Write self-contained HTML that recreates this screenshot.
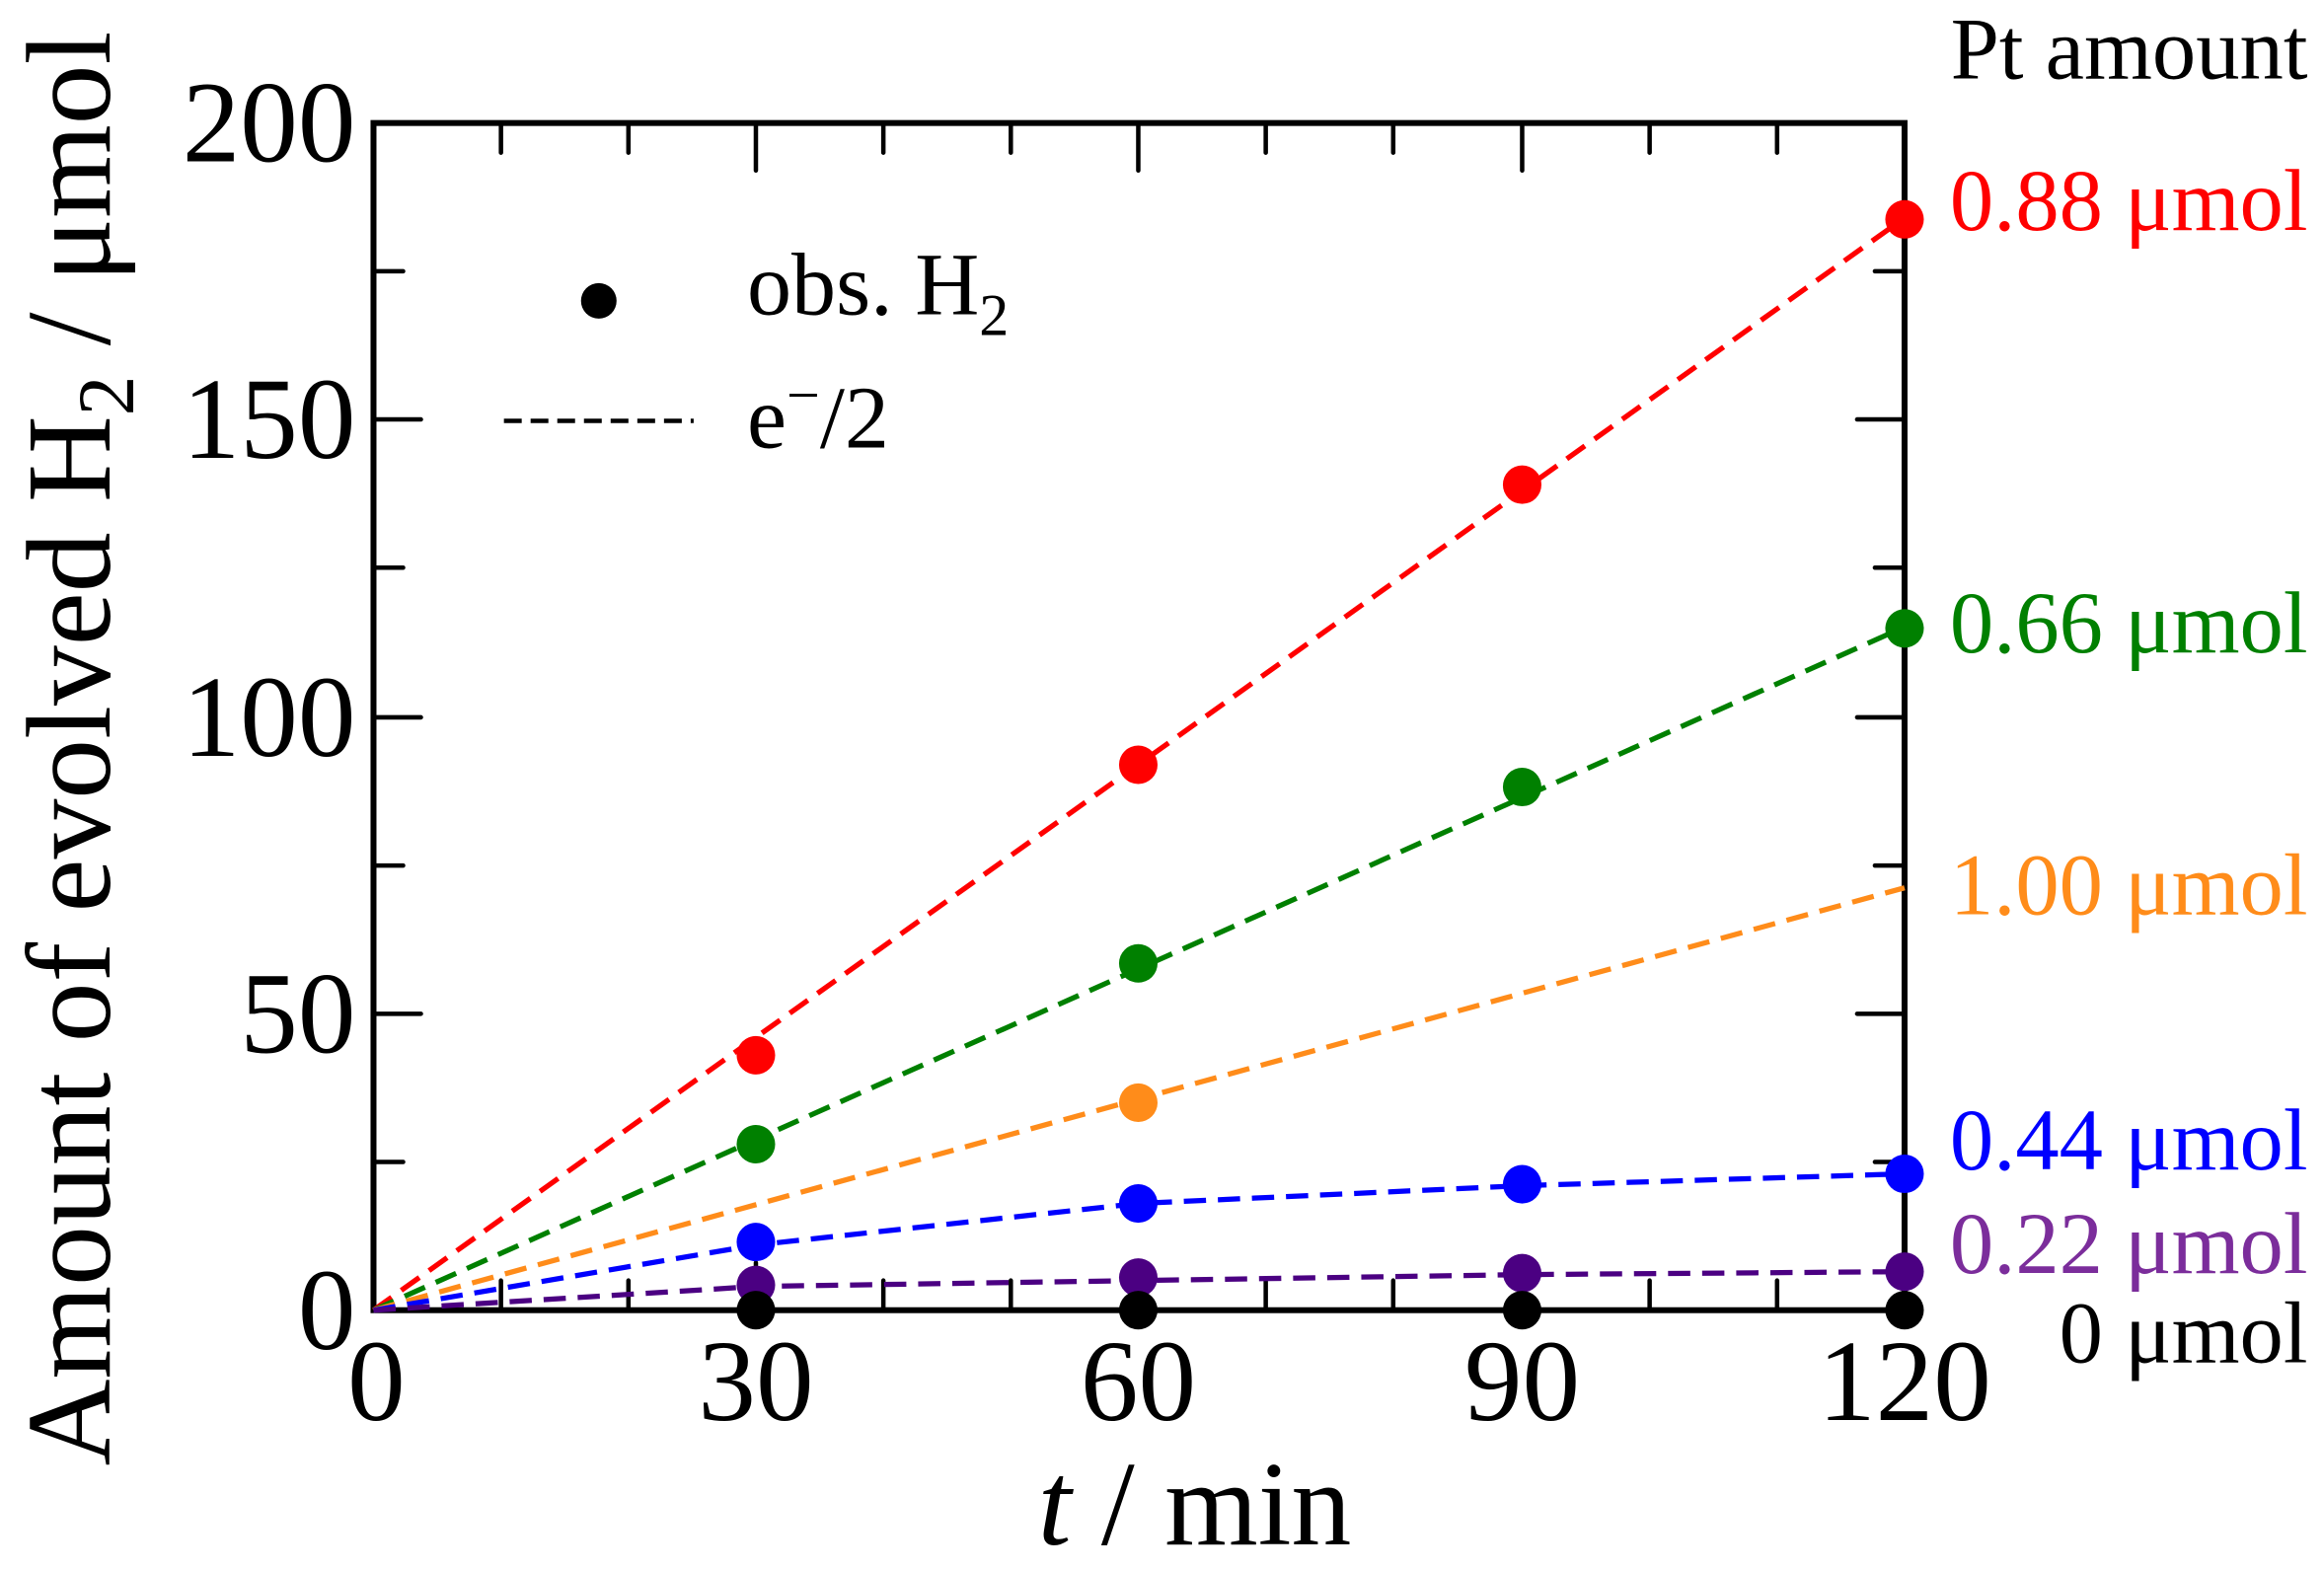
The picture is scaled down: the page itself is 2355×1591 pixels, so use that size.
<!DOCTYPE html>
<html><head><style>html,body{margin:0;padding:0;background:#fff}svg{display:block}</style></head>
<body>
<svg width="2355" height="1591" viewBox="0 0 1568 1059.3" preserveAspectRatio="none" xmlns="http://www.w3.org/2000/svg" font-family="Liberation Serif, serif">
<rect width="1568" height="1060" fill="#fff"/>
<g stroke="#000" stroke-width="3" stroke-linecap="round">
<path d="M338,884v-20M424,884v-20M596,884v-20M682,884v-20M854,884v-20M940,884v-20M1113,884v-20M1199,884v-20
M510,884v-32M768,884v-32M1027,884v-32
M338,83v20M424,83v20M596,83v20M682,83v20M854,83v20M940,83v20M1113,83v20M1199,83v20
M510,83v32M768,83v32M1027,83v32
M252,784h20M252,584h20M252,383h20M252,183h20
M252,684h32M252,484h32M252,283h32
M1285,784h-20M1285,584h-20M1285,383h-20M1285,183h-20
M1285,684h-32M1285,484h-32M1285,283h-32"/>
</g>
<rect x="252" y="83" width="1033" height="801" fill="none" stroke="#000" stroke-width="4"/>
<g stroke-width="3.5" stroke-dasharray="15,8" fill="none">
<line x1="252" y1="884" x2="1285" y2="147" stroke="#ff0000"/>
<line x1="252" y1="884" x2="1285" y2="423" stroke="#008000"/>
<line x1="252" y1="884" x2="1285" y2="599" stroke="#ff8c1a"/>
<polyline points="252,884 510,840 768,812 1027,800 1285,792" stroke="#0000ff"/>
<polyline points="252,884 510,868 768,864 1027,860 1285,858" stroke="#4b0082"/>
</g>
<g fill="#ff0000"><circle cx="510" cy="712" r="13"/><circle cx="768" cy="516" r="13"/><circle cx="1027" cy="327" r="13"/><circle cx="1285" cy="148" r="13"/></g>
<g fill="#008000"><circle cx="510" cy="772" r="13"/><circle cx="768" cy="650" r="13"/><circle cx="1027" cy="531" r="13"/><circle cx="1285" cy="424" r="13"/></g>
<g fill="#ff8c1a"><circle cx="768" cy="744" r="13"/></g>
<g fill="#0000ff"><circle cx="510" cy="838" r="13"/><circle cx="768" cy="812" r="13"/><circle cx="1027" cy="799" r="13"/><circle cx="1285" cy="792" r="13"/></g>
<g fill="#4b0082"><circle cx="510" cy="867" r="13"/><circle cx="768" cy="862" r="13"/><circle cx="1027" cy="859" r="13"/><circle cx="1285" cy="858" r="13"/></g>
<g fill="#000"><circle cx="510" cy="884" r="13"/><circle cx="768" cy="884" r="13"/><circle cx="1027" cy="884" r="13"/><circle cx="1285" cy="884" r="13"/></g>
<circle cx="404" cy="203" r="12" fill="#000"/>
<line x1="340" y1="284" x2="468" y2="284" stroke="#000" stroke-width="3" stroke-dasharray="12,6"/>
<g font-size="60" fill="#000">
<text x="504" y="212">obs. H<tspan font-size="40" dy="14">2</tspan></text>
<text x="504" y="302">e<tspan font-size="40" dy="-22">−</tspan><tspan dy="22">/2</tspan></text>
</g>
<g font-size="78" fill="#000" text-anchor="middle">
<text x="254" y="958">0</text><text x="510" y="958">30</text><text x="768" y="958">60</text><text x="1027" y="958">90</text><text x="1285" y="958">120</text>
</g>
<g font-size="78" fill="#000" text-anchor="end">
<text x="240" y="910">0</text><text x="240" y="710">50</text><text x="240" y="510">100</text><text x="240" y="309">150</text><text x="240" y="109">200</text>
</g>
<text x="806" y="1042" font-size="81" text-anchor="middle"><tspan font-style="italic">t</tspan> / min</text>
<text transform="translate(74,505) rotate(-90)" font-size="81" text-anchor="middle">Amount of evolved H<tspan font-size="54" dy="16">2</tspan><tspan dy="-16"> / μmol</tspan></text>
<g font-size="59" text-anchor="end">
<text x="1557" y="53" fill="#000">Pt amount</text>
<text x="1557" y="155" fill="#ff0000">0.88 μmol</text>
<text x="1557" y="440" fill="#008000">0.66 μmol</text>
<text x="1557" y="617" fill="#ff8c1a">1.00 μmol</text>
<text x="1557" y="789" fill="#0000ff">0.44 μmol</text>
<text x="1557" y="859" fill="#7b2d9b">0.22 μmol</text>
<text x="1557" y="919" fill="#000">0 μmol</text>
</g>
</svg>
</body></html>
